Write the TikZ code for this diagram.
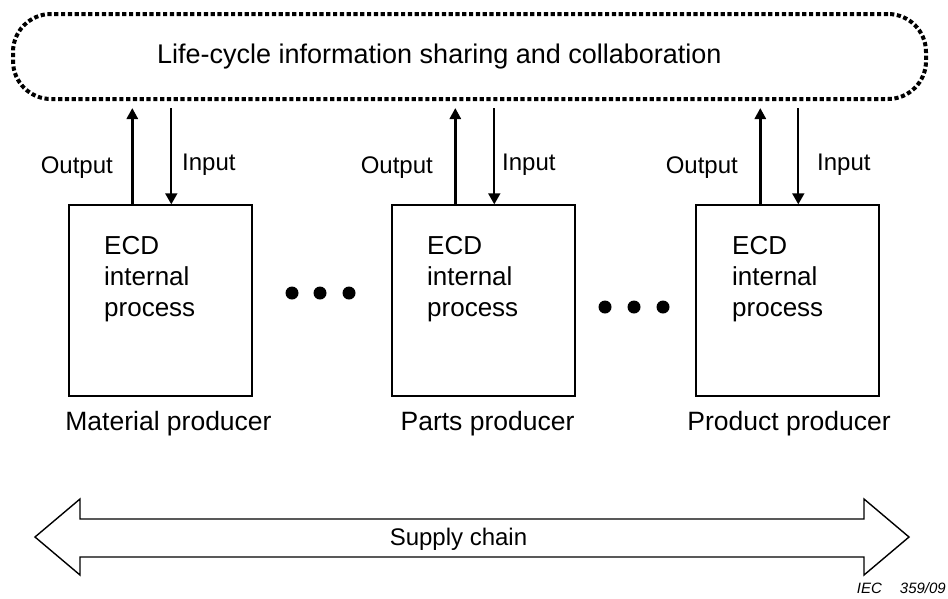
\documentclass[tikz,border=0pt]{standalone}
\usepackage{fontspec}
\setmainfont{Liberation Sans}
\usetikzlibrary{arrows.meta,positioning}

\begin{document}
\begin{tikzpicture}[
    x=1pt, y=-1pt,
    sharing/.style={rectangle, draw=black, line width=4pt, rounded corners=38pt,
                    dash pattern=on 4.2pt off 2.6pt, minimum width=913pt, minimum height=85pt},
    process/.style={rectangle, draw=black, line width=1.4pt, minimum width=183pt,
                    minimum height=191pt, inner sep=0pt},
    proctext/.style={align=left, inner sep=0pt, anchor=north west,
                     font=\fontsize{26}{31}\selectfont},
    owner/.style={inner sep=0pt, anchor=base, font=\fontsize{26.5}{30}\selectfont},
    flowlabel/.style={inner sep=0pt, font=\fontsize{24}{28}\selectfont},
    outarrow/.style={-{Triangle[length=11pt, width=11pt]}, line width=3pt, shorten >=7pt},
    inarrow/.style={-{Triangle[length=11pt, width=12pt]}, line width=1.8pt, shorten <=7pt},
    ellipsis/.style={circle, fill=black, minimum size=13pt, inner sep=0pt}
]
    \useasboundingbox (0,0) rectangle (948,598);

    % shared life-cycle information (dotted band)
    \node[sharing] (share) at (469.5,56.5) {};
    \node[inner sep=0pt, anchor=base west, font=\fontsize{27}{30}\selectfont] (title) at (157,63)
        {Life-cycle information sharing and collaboration};

    % ECD internal processes
    \node[process] (mat) at (160.5,300.5) {};
    \node[process] (parts) at (483.5,300.5) {};
    \node[process] (prod) at (787.5,300.5) {};

    \node[proctext] (mattxt) at (104,236) {ECD\\internal\\process};
    \node[proctext] (partstxt) at (427,236) {ECD\\internal\\process};
    \node[proctext] (prodtxt) at (732,236) {ECD\\internal\\process};

    % producers
    \node[owner] (matlbl) at (168.5,430) {Material producer};
    \node[owner] (partslbl) at (487.5,430) {Parts producer};
    \node[owner] (prodlbl) at (789,430) {Product producer};

    % output / input flows
    \draw[outarrow] ([xshift=64pt]mat.north west) -- ([xshift=64pt]mat.north west |- share.south);
    \draw[inarrow] ([xshift=103pt]mat.north west |- share.south) -- ([xshift=103pt]mat.north west);
    \draw[outarrow] ([xshift=64pt]parts.north west) -- ([xshift=64pt]parts.north west |- share.south);
    \draw[inarrow] ([xshift=103pt]parts.north west |- share.south) -- ([xshift=103pt]parts.north west);
    \draw[outarrow] ([xshift=65pt]prod.north west) -- ([xshift=65pt]prod.north west |- share.south);
    \draw[inarrow] ([xshift=103pt]prod.north west |- share.south) -- ([xshift=103pt]prod.north west);

    \node[flowlabel, anchor=base east] (matout) at (113,173) {Output};
    \node[flowlabel, anchor=base west] (matin) at (182,170) {Input};
    \node[flowlabel, anchor=base east] (partsout) at (433,173) {Output};
    \node[flowlabel, anchor=base west] (partsin) at (502,170) {Input};
    \node[flowlabel, anchor=base east] (prodout) at (738,173) {Output};
    \node[flowlabel, anchor=base west] (prodin) at (817,170) {Input};

    % more producers in between
    \node[ellipsis] (dota) at (292,293) {};
    \node[ellipsis] (dotb) at (320,293) {};
    \node[ellipsis] (dotc) at (349,293) {};
    \node[ellipsis] (dotd) at (605,307) {};
    \node[ellipsis] (dote) at (634,307) {};
    \node[ellipsis] (dotf) at (663,307) {};

    % supply chain
    \draw[line width=1.4pt, line join=miter] (35,537) -- (80,499) -- (80,519) -- (864,519) -- (864,499)
        -- (909,537) -- (864,575) -- (864,557) -- (80,557) -- (80,575) -- cycle;
    \node[flowlabel, anchor=base] (supply) at (458.5,545) {Supply chain};

    \node[inner sep=0pt, anchor=base east, font=\fontsize{15}{18}\selectfont\itshape] (iec) at (946,593)
        {IEC\hspace{18pt}359/09};
\end{tikzpicture}
\end{document}
